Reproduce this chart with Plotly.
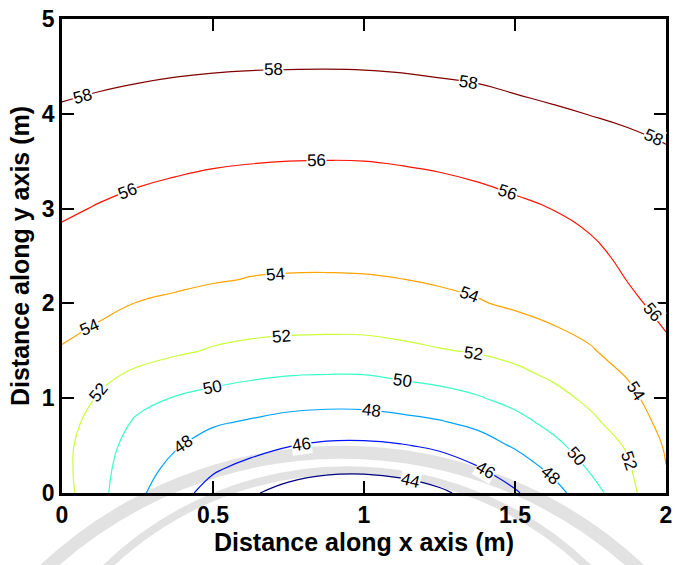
import math
import numpy as np
import plotly.graph_objects as go

# Grid positions (m)
x_pos = [0.0, 0.125, 0.25, 0.375, 0.5, 0.625, 0.75, 0.875, 1.0,
         1.125, 1.25, 1.375, 1.5, 1.625, 1.75, 1.875, 2.0]
y_pos = [0.0, 0.25, 0.5, 0.75, 1.0, 1.25, 1.5, 1.75, 2.0, 2.25, 2.5,
         3.0, 3.5, 4.0, 4.5, 5.0]

# Field values, one list per x position (bottom to top along y)
col_000 = [52.75, 52.6, 52.6, 52.85, 53.2, 53.55, 53.9, 54.28, 54.67, 55.05, 55.44, 56.22, 57.0, 57.8, 58.6, 59.4]
col_0125 = [50.5, 50.55, 50.7, 51.15, 51.8, 52.45, 53.15, 53.9, 54.3, 54.69, 55.09, 55.9, 56.7, 57.6, 58.45, 59.3]
col_025 = [48.4, 48.85, 49.27, 49.75, 50.55, 51.67, 52.7, 53.3, 53.97, 54.39, 54.8, 55.61, 56.48, 57.41, 58.33, 59.2]
col_0375 = [46.7, 47.4, 48.17, 49.03, 49.9, 51.07, 52.28, 52.95, 53.75, 54.28, 54.62, 55.43, 56.28, 57.25, 58.22, 59.1]
col_050 = [45.3, 46.2, 47.2, 48.24, 49.45, 50.64, 51.85, 52.63, 53.37, 54.12, 54.47, 55.29, 56.13, 57.14, 58.14, 59.1]
col_0625 = [44.2, 45.42, 46.63, 47.83, 49.09, 50.31, 51.44, 52.56, 53.2, 53.94, 54.36, 55.2, 56.05, 57.07, 58.09, 59.1]
col_075 = [43.4, 44.7, 46.06, 47.44, 48.78, 50.07, 51.25, 52.42, 53.1, 53.88, 54.31, 55.15, 56.0, 57.03, 58.07, 59.1]
col_0875 = [43.0, 44.33, 45.72, 47.23, 48.67, 50.0, 51.18, 52.37, 53.08, 53.87, 54.3, 55.14, 55.98, 57.02, 58.06, 59.1]
col_100 = [42.9, 44.28, 45.67, 47.25, 48.7, 50.01, 51.2, 52.4, 53.1, 53.9, 54.31, 55.16, 56.0, 57.04, 58.08, 59.1]
col_1125 = [43.1, 44.54, 45.89, 47.51, 48.99, 50.33, 51.49, 52.65, 53.3, 53.98, 54.41, 55.24, 56.08, 57.11, 58.14, 59.1]
col_125 = [43.7, 45.0, 46.31, 47.88, 49.31, 50.63, 51.9, 52.7, 53.5, 54.2, 54.52, 55.34, 56.2, 57.22, 58.25, 59.2]
col_1375 = [44.6, 45.81, 47.12, 48.47, 49.84, 51.02, 52.13, 52.97, 53.9, 54.31, 54.71, 55.51, 56.38, 57.35, 58.36, 59.3]
col_150 = [45.8, 46.91, 48.2, 49.43, 50.56, 51.59, 52.53, 53.55, 54.2, 54.53, 54.94, 55.74, 56.65, 57.6, 58.55, 59.5]
col_1625 = [47.3, 48.37, 49.52, 50.52, 51.41, 52.28, 53.12, 53.95, 54.38, 54.79, 55.2, 56.02, 56.92, 57.82, 58.72, 59.6]
col_175 = [49.2, 50.18, 50.91, 51.64, 52.38, 53.13, 53.88, 54.36, 54.78, 55.21, 55.63, 56.44, 57.24, 58.03, 58.83, 59.6]
col_1875 = [51.4, 51.8, 52.2, 52.93, 53.55, 54.14, 54.62, 55.11, 55.72, 56.05, 56.35, 56.96, 57.57, 58.18, 58.8, 59.4]
col_200 = [53.9, 53.95, 54.2, 54.62, 54.99, 55.36, 55.73, 56.07, 56.4, 56.57, 56.82, 57.32, 57.82, 58.32, 58.82, 59.3]

columns = [col_000, col_0125, col_025, col_0375, col_050, col_0625, col_075,
           col_0875, col_100, col_1125, col_125, col_1375, col_150,
           col_1625, col_175, col_1875, col_200]

# Contour levels and axis ticks
level_start, level_end, level_step = 44, 58, 2
x_ticks = [0, 0.5, 1, 1.5, 2]
x_tick_text = ["0", "0.5", "1", "1.5", "2"]
y_ticks = [0, 1, 2, 3, 4, 5]

# Inline contour labels: level and approximate spot along its line
label_level = [58, 58, 58, 58, 56, 56, 56, 56, 54, 54, 54, 54,
               52, 52, 52, 52, 50, 50, 50, 48, 48, 48, 46, 46, 44]
label_x = [0.07, 0.70, 1.345, 1.955, 0.217, 0.844, 1.478, 1.944,
           0.092, 0.707, 1.343, 1.89, 0.125, 0.726, 1.36, 1.868,
           0.502, 1.125, 1.704, 0.409, 1.026, 1.611, 0.794, 1.409, 1.152]
label_y = [4.155, 4.46, 4.32, 3.72, 3.18, 3.51, 3.185, 1.87,
           1.736, 2.3, 2.06, 1.05, 1.05, 1.66, 1.45, 0.333,
           1.066, 1.17, 0.385, 0.473, 0.86, 0.16, 0.50, 0.27, 0.13]

X = np.array(x_pos)
Y = np.array(y_pos)
Z = np.array(columns).T          # rows indexed by y, columns by x

# pixel size of one data unit inside the plot area
PLOT_L, PLOT_R, PLOT_T, PLOT_B = 62, 6, 16, 72
W, H = 678, 565
SX = (W - PLOT_L - PLOT_R) / 2.0
SY = (H - PLOT_T - PLOT_B) / 5.0


def field(xq, yq):
    """Bilinear value of the gridded field."""
    xq = min(max(xq, X[0]), X[-1])
    yq = min(max(yq, Y[0]), Y[-1])
    i = int(np.clip(np.searchsorted(X, xq) - 1, 0, len(X) - 2))
    j = int(np.clip(np.searchsorted(Y, yq) - 1, 0, len(Y) - 2))
    tx = (xq - X[i]) / (X[i + 1] - X[i])
    ty = (yq - Y[j]) / (Y[j + 1] - Y[j])
    return ((1 - tx) * (1 - ty) * Z[j, i] + tx * (1 - ty) * Z[j, i + 1]
            + (1 - tx) * ty * Z[j + 1, i] + tx * ty * Z[j + 1, i + 1])


def pixel_gradient(xq, yq, h=0.01):
    gx = (field(xq + h, yq) - field(xq - h, yq)) / (2 * h)
    gy = (field(xq, yq + h) - field(xq, yq - h)) / (2 * h)
    return gx / SX, gy / SY


def snap(xq, yq, level):
    """Move a point onto the contour of the given level."""
    px, py = xq * SX, yq * SY
    for _ in range(30):
        f = field(px / SX, py / SY) - level
        gx, gy = pixel_gradient(px / SX, py / SY)
        n2 = gx * gx + gy * gy
        px -= f * gx / n2
        py -= f * gy / n2
    return px / SX, py / SY


annotations = []
for lv, lx, ly in zip(label_level, label_x, label_y):
    sx_, sy_ = snap(lx, ly, lv)
    gx, gy = pixel_gradient(sx_, sy_)
    tx, ty = gy, -gx
    if tx < 0:
        tx, ty = -tx, -ty
    ang = -math.degrees(math.atan2(ty, tx))
    annotations.append(dict(
        x=sx_, y=sy_, xref="x", yref="y", text=str(lv), showarrow=False,
        textangle=ang, bgcolor="white", borderpad=0,
        font=dict(family="Liberation Sans, Arial", size=17, color="black"),
    ))

# jet-style line colours
jet = [[0.0, "#000080"], [0.125, "#0000ff"], [0.375, "#00ffff"],
       [0.625, "#ffff00"], [0.875, "#ff0000"], [1.0, "#800000"]]

fig = go.Figure(go.Contour(
    x=x_pos, y=y_pos, z=Z.tolist(),
    zmin=level_start, zmax=level_end, zauto=False,
    colorscale=jet, showscale=False,
    contours=dict(coloring="lines", start=level_start, end=level_end,
                  size=level_step, showlabels=False),
    line=dict(width=1.2, smoothing=1.3),
    hoverinfo="skip",
))

axis_font = dict(family="Liberation Sans, Arial", size=23, color="black")
title_font = dict(family="Liberation Sans, Arial", size=25, color="black")

fig.update_xaxes(
    range=[0, 2], tickvals=x_ticks, ticktext=["<b>%s</b>" % t for t in x_tick_text],
    ticks="inside", ticklen=12, tickwidth=2, tickcolor="black",
    showline=True, linewidth=2.5, linecolor="black", mirror="ticks",
    showgrid=False, zeroline=False, tickfont=axis_font, layer="above traces",
    title=dict(text="<b>Distance along x axis (m)</b>", font=title_font, standoff=4),
)
fig.update_yaxes(
    range=[0, 5], tickvals=y_ticks, ticktext=["<b>%d</b>" % t for t in y_ticks],
    ticks="inside", ticklen=12, tickwidth=2, tickcolor="black",
    showline=True, linewidth=2.5, linecolor="black", mirror="ticks",
    showgrid=False, zeroline=False, tickfont=axis_font, layer="above traces",
    title=dict(text="<b>Distance along y axis (m)</b>", font=title_font, standoff=6),
)


def px_circle(cx, cy, r, width, color):
    """Outline circle given in page pixels, placed in paper coordinates."""
    pw = W - PLOT_L - PLOT_R
    ph = H - PLOT_T - PLOT_B
    return dict(
        type="circle", xref="paper", yref="paper", layer="below",
        x0=(cx - r - PLOT_L) / pw, x1=(cx + r - PLOT_L) / pw,
        y0=(H - PLOT_B - (cy + r)) / ph, y1=(H - PLOT_B - (cy - r)) / ph,
        line=dict(color=color, width=width),
    )


# faint background arcs near the bottom of the page
shapes = [
    px_circle(345, 893, 441, 13, "#e2e2e2"),
    px_circle(350, 821, 351, 8, "#e2e2e2"),
]

fig.update_layout(
    width=W, height=H,
    margin=dict(l=PLOT_L, r=PLOT_R, t=PLOT_T, b=PLOT_B),
    paper_bgcolor="white", plot_bgcolor="rgba(0,0,0,0)",
    showlegend=False, annotations=annotations, shapes=shapes,
)

fig.write_html("out.html")
